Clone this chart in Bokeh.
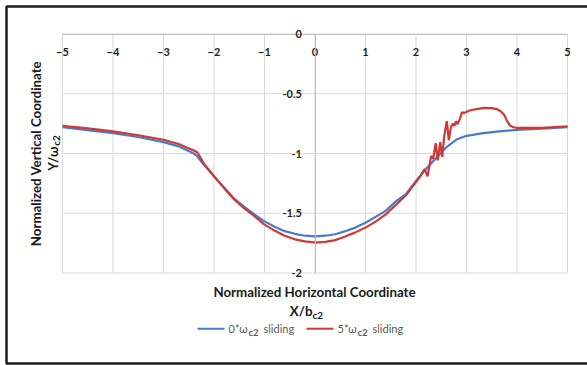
import math
from bokeh.plotting import figure
from bokeh.models import LinearAxis, FixedTicker, Label, BoxAnnotation, Range1d
from bokeh.embed import file_html
from bokeh.resources import INLINE

# ---- data ----
x_ticks = [-5, -4, -3, -2, -1, 0, 1, 2, 3, 4, 5]
y_ticks = [-2, -1.5, -1, -0.5, 0]
y_tick_labels = ["-2", "-1.5", "-1", "-0.5", "0"]

blue_x = [-5, -4.5, -4, -3.5, -3, -2.7, -2.4, -2.35, -2.2, -2.0, -1.8, -1.6, -1.4,
          -1.2, -1.0, -0.8, -0.6, -0.4, -0.2, 0, 0.2, 0.4, 0.6, 0.8, 1.0, 1.2, 1.4,
          1.6, 1.8, 2.0, 2.2, 2.4, 2.6, 2.8, 3.0, 3.3, 3.6, 4.0, 4.5, 5.0]
blue_y = [-0.78, -0.805, -0.83, -0.862, -0.905, -0.94, -1.0, -1.015, -1.094, -1.19,
          -1.285, -1.378, -1.446, -1.51, -1.568, -1.613, -1.65, -1.672, -1.688, -1.693,
          -1.688, -1.676, -1.65, -1.62, -1.58, -1.53, -1.48, -1.40, -1.34, -1.23,
          -1.128, -1.038, -0.948, -0.883, -0.852, -0.832, -0.817, -0.802, -0.793, -0.78]

red_x = [-5, -4.5, -4, -3.5, -3, -2.7, -2.4, -2.33, -2.2, -2.0, -1.8, -1.6, -1.4,
         -1.2, -1.0, -0.8, -0.6, -0.4, -0.2, 0, 0.2, 0.4, 0.6, 0.8, 1.0, 1.2, 1.4,
         1.6, 1.8, 2.0, 2.1, 2.17, 2.23, 2.30, 2.34, 2.39, 2.43, 2.48, 2.52, 2.56,
         2.61, 2.65, 2.69, 2.73, 2.76, 2.79, 2.82, 2.87, 2.91, 2.96, 3.06, 3.2, 3.35,
         3.5, 3.6, 3.69, 3.75, 3.8, 3.86, 3.93, 4.0, 4.5, 5.0]
red_y = [-0.768, -0.79, -0.815, -0.847, -0.885, -0.92, -0.975, -0.99, -1.085, -1.19,
         -1.29, -1.385, -1.46, -1.525, -1.595, -1.645, -1.688, -1.718, -1.735, -1.745,
         -1.74, -1.725, -1.695, -1.66, -1.62, -1.57, -1.51, -1.43, -1.35, -1.24,
         -1.18, -1.13, -1.19, -1.02, -1.045, -0.913, -1.058, -0.905, -1.03, -0.85,
         -0.73, -0.89, -0.78, -0.75, -0.77, -0.73, -0.755, -0.71, -0.655, -0.66,
         -0.64, -0.628, -0.618, -0.62, -0.628, -0.65, -0.68, -0.725, -0.765, -0.78,
         -0.785, -0.785, -0.773]

series_names = ["0*\u03c9", "5*\u03c9"]
series_sub = "c2"
series_suffix = "sliding"

BLUE = "#4a7bcb"
RED = "#cd3a36"
FONT = "Lato"
W, H = 587, 365

# plot-area placement in pixels (frame covers the whole canvas so nothing is clipped)
PL, PR, PT, PB = 62.0, 567.0, 33.5, 272.5
sx = (PR - PL) / (x_ticks[-1] - x_ticks[0])
sy = (PB - PT) / (y_ticks[-1] - y_ticks[0])

def dx(px):
    return x_ticks[0] + (px - PL) / sx

def dy(py):
    return y_ticks[-1] - (py - PT) / sy

p = figure(width=W, height=H,
           x_range=Range1d(dx(0), dx(W)), y_range=Range1d(dy(H), dy(0)),
           output_backend="svg", toolbar_location=None,
           x_axis_location=None, y_axis_location=None,
           min_border=0, min_border_left=0, min_border_right=0,
           min_border_top=0, min_border_bottom=0)
p.outline_line_color = None
p.background_fill_color = "white"
p.border_fill_color = "white"
p.xgrid.visible = False
p.ygrid.visible = False

# gridlines built from the tick arrays
ny, nx = len(y_ticks), len(x_ticks)
p.segment(x0=x_ticks, y0=[y_ticks[0]] * nx, x1=x_ticks, y1=[y_ticks[-1]] * nx,
          line_color="#d9d9d9", line_width=1)
p.segment(x0=[x_ticks[0]] * ny, y0=y_ticks, x1=[x_ticks[-1]] * ny, y1=y_ticks,
          line_color="#d9d9d9", line_width=1)

def style_axis(ax):
    ax.axis_line_color = "#bfbfbf"
    ax.axis_line_width = 1
    ax.major_tick_line_color = None
    ax.minor_tick_line_color = None
    ax.major_label_text_font = FONT
    ax.major_label_text_font_style = "bold"
    ax.major_label_text_font_size = "11px"
    ax.major_label_text_color = "#1f1f1f"

xa = LinearAxis(fixed_location=0, bounds=(x_ticks[0], x_ticks[-1]),
                ticker=FixedTicker(ticks=x_ticks))
style_axis(xa)
xa.major_label_standoff = 8
p.add_layout(xa, "below")

ya = LinearAxis(fixed_location=0, bounds=(y_ticks[0], y_ticks[-1]),
                ticker=FixedTicker(ticks=y_ticks),
                major_label_overrides=dict(zip(y_ticks, y_tick_labels)))
style_axis(ya)
ya.major_label_standoff = 7
p.add_layout(ya, "left")

p.line(blue_x, blue_y, line_color=BLUE, line_width=2.2)
p.line(red_x, red_y, line_color=RED, line_width=2.2)

def lab(text, px, py, size="13.3px", style="bold", color="#1a1a1a", align="center",
        baseline="middle", angle=0.0):
    p.add_layout(Label(text=text, x=dx(px), y=dy(py),
                       text_font=FONT, text_font_size=size, text_font_style=style,
                       text_color=color, text_align=align, text_baseline=baseline,
                       angle=angle))

# outer border
p.add_layout(BoxAnnotation(left=dx(6), right=dx(700), top=dy(6), bottom=dy(363),
                           fill_color=None, fill_alpha=0, line_color="#1c1c1c",
                           line_alpha=1.0, line_width=2.5))

# y title
lab("Normalized Vertical Coordinate", 35, 153, angle=math.pi / 2)
lab("Y/\u03c9", 52, 158, angle=math.pi / 2)
lab("c2", 55.5, 140, size="10px", angle=math.pi / 2)

# x title
lab("Normalized Horizontal Coordinate", 314, 291)
lab("X/b", 312, 310, align="right")
lab("c2", 312, 314, size="10px", align="left")

# legend
for i, (c, x0) in enumerate(((BLUE, 197), (RED, 306))):
    p.add_layout(BoxAnnotation(left=dx(x0), right=dx(x0 + 27), top=dy(327.2), bottom=dy(329.2),
                               fill_color=c, fill_alpha=1.0, line_color=None))
    lab(series_names[i], x0 + 31, 328, size="11px", style="normal", color="#595959", align="left")
    lab(series_sub, x0 + 51, 331.5, size="9.5px", style="bold", color="#595959", align="left")
    lab(series_suffix, x0 + 66, 328, size="11px", style="normal", color="#595959", align="left")

open("out.html", "w").write(file_html(p, INLINE))
